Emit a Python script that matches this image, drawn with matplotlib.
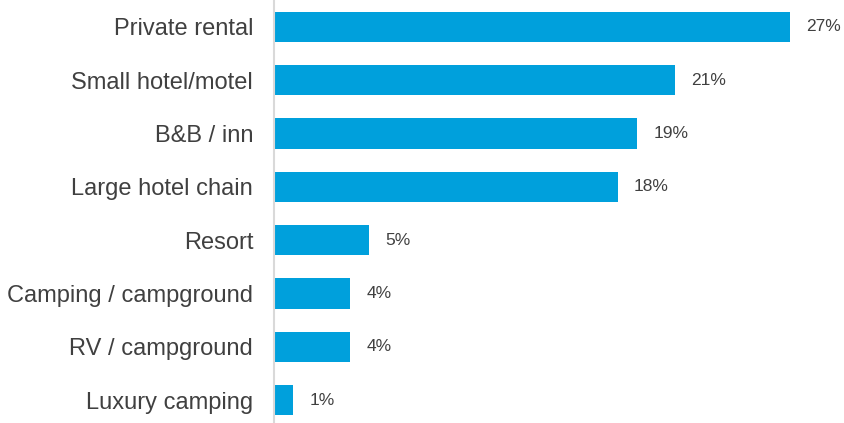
import matplotlib
matplotlib.use("Agg")
import matplotlib.pyplot as plt

categories = ["Private rental", "Small hotel/motel", "B&B / inn", "Large hotel chain",
              "Resort", "Camping / campground", "RV / campground", "Luxury camping"]
values = [27, 21, 19, 18, 5, 4, 4, 1]
value_labels = ["27%", "21%", "19%", "18%", "5%", "4%", "4%", "1%"]

plt.rcParams['font.family'] = ['Liberation Sans', 'DejaVu Sans']

W, H = 845, 423
fig = plt.figure(figsize=(W / 100, H / 100), dpi=100)
left_px, top_px, bottom_px, right_px = 274, 0.3, 426.9, 847
ax = fig.add_axes([left_px / W, (H - bottom_px) / H,
                   (right_px - left_px) / W, (bottom_px - top_px) / H])

y = list(range(len(categories)))
ax.barh(y, values, height=0.57, color="#00A0DC", zorder=2)
ax.set_xlim(0, 30)
ax.set_ylim(len(categories) - 0.5, -0.5)

for yi, v, lab in zip(y, values, value_labels):
    ax.text(v + 0.85, yi, lab, va="center", ha="left", fontsize=12.5, color="#404040")

ax.set_yticks(y)
ax.set_yticklabels(categories, fontsize=17, color="#404040")
ax.tick_params(axis="y", length=0, pad=15)
ax.set_xticks([])
for s in ["top", "right", "bottom"]:
    ax.spines[s].set_visible(False)
ax.spines["left"].set_color("#D9D9D9")
ax.spines["left"].set_linewidth(1.5)

fig.savefig("out.png", dpi=100)
